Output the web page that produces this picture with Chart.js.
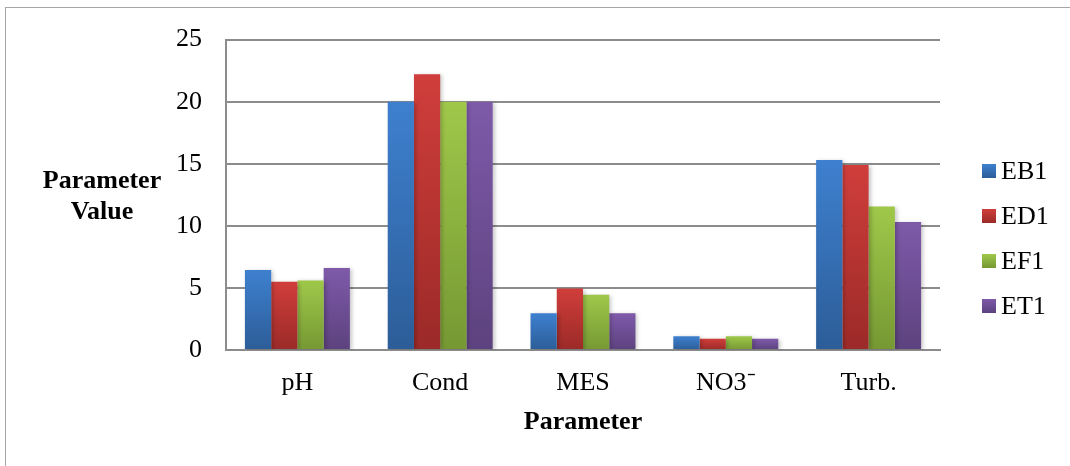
<!DOCTYPE html>
<html>
<head>
<meta charset="utf-8">
<script src="https://cdn.jsdelivr.net/npm/chart.js@4.4.1/dist/chart.umd.min.js"></script>
<style>
  html, body { margin: 0; padding: 0; background: #fff; overflow: hidden; }
  #wrap { position: relative; width: 1070px; height: 466px; }
  #frame { position: absolute; left: 5px; top: 7px; width: 1100px; height: 500px; border: 1px solid #a6a6a6; }
  canvas { position: absolute; left: 0; top: 0; }
</style>
</head>
<body>
<div id="wrap">
  <div id="frame"></div>
  <canvas id="myBarChart" width="1070" height="466"></canvas>
</div>
<script>
// 데이터
const categories = ['pH', 'Cond', 'MES', 'NO3\u207B', 'Turb.'];
const seriesNames = ['EB1', 'ED1', 'EF1', 'ET1'];
const eb1 = [6.45, 20, 2.95, 1.1, 15.3];
const ed1 = [5.5, 22.2, 4.95, 0.9, 14.9];
const ef1 = [5.6, 20, 4.45, 1.1, 11.55];
const et1 = [6.6, 20, 2.95, 0.9, 10.3];
const yTicks = [0, 5, 10, 15, 20, 25];

// 색상 (위 -> 아래 그라데이션)
const colors = [
	{ top: '#3e80cf', bottom: '#2c5d98', mid: '#3570b6' },
	{ top: '#d03e3b', bottom: '#9b2a28', mid: '#b93533' },
	{ top: '#9fc84a', bottom: '#769833', mid: '#8bb13f' },
	{ top: '#7e5aa9', bottom: '#5c427e', mid: '#6d4e95' }
];

const serif = "'Liberation Serif', 'Times New Roman', serif";
const fontSize = 26;
const gridColor = '#8c8c8c';

function barGradient(idx) {
	return function(context) {
		const chart = context.chart;
		const yScale = chart.scales.y;
		if (!chart.chartArea || !yScale || context.parsed === undefined) {
			return colors[idx].mid;
		}
		const top = yScale.getPixelForValue(context.parsed.y);
		const bottom = yScale.getPixelForValue(0);
		if (!isFinite(top) || !isFinite(bottom) || top === bottom) {
			return colors[idx].mid;
		}
		const g = chart.ctx.createLinearGradient(0, top, 0, bottom);
		g.addColorStop(0, colors[idx].top);
		g.addColorStop(1, colors[idx].bottom);
		return g;
	};
}

// 그림자
const shadowPlugin = {
	id: 'barShadow',
	beforeDatasetsDraw(chart) {
		const ctx = chart.ctx;
		ctx.save();
		ctx.shadowColor = 'rgba(0, 0, 0, 0.22)';
		ctx.shadowBlur = 4;
		ctx.shadowOffsetX = 2;
		ctx.shadowOffsetY = 1;
	},
	afterDatasetsDraw(chart) {
		chart.ctx.restore();
	}
};

// y축 제목 (가로) + 범례
const textPlugin = {
	id: 'extraText',
	afterDraw(chart) {
		const ctx = chart.ctx;
		ctx.save();
		ctx.fillStyle = '#000';
		ctx.font = 'bold ' + fontSize + 'px ' + serif;
		ctx.textAlign = 'center';
		ctx.textBaseline = 'middle';
		ctx.fillText('Parameter', 102, 181);
		ctx.fillText('Value', 102, 212);

		// 범례
		ctx.font = fontSize + 'px ' + serif;
		ctx.textAlign = 'left';
		chart.data.datasets.forEach(function(ds, i) {
			const cy = 171 + i * 45;
			const g = ctx.createLinearGradient(0, cy - 7, 0, cy + 7);
			g.addColorStop(0, colors[i].top);
			g.addColorStop(1, colors[i].bottom);
			ctx.fillStyle = g;
			ctx.fillRect(982, cy - 7, 14, 14);
			ctx.fillStyle = '#000';
			ctx.fillText(ds.label, 1001, cy + 1);
		});
		ctx.restore();
	}
};

const barCtx = document.getElementById('myBarChart').getContext('2d');
const seriesData = [eb1, ed1, ef1, et1];

window.myBarChart = new Chart(barCtx, {
	type: 'bar',
	data: {
		labels: categories,
		datasets: seriesNames.map(function(name, i) {
			return {
				label: name,
				data: seriesData[i],
				backgroundColor: barGradient(i),
				borderWidth: 0,
				categoryPercentage: 0.735,
				barPercentage: 1.0
			};
		})
	},
	options: {
		responsive: false,
		animation: false,
		layout: {
			padding: { left: 0, right: 130, top: 20, bottom: 0 }
		},
		scales: {
			x: {
				grid: { display: false, drawTicks: false },
				border: { display: true, color: gridColor, width: 2 },
				ticks: {
					color: '#000',
					padding: 18,
					font: { family: serif, size: fontSize }
				},
				title: {
					display: true,
					text: 'Parameter',
					color: '#000',
					font: { family: serif, size: fontSize, weight: 'bold' },
					padding: { top: 8, bottom: 28 }
				},
				afterFit: function(scale) { scale.height = 116; }
			},
			y: {
				min: 0,
				max: 25,
				afterBuildTicks: function(scale) {
					scale.ticks = yTicks.map(function(v) { return { value: v }; });
				},
				grid: { color: gridColor, lineWidth: 2, drawTicks: false },
				border: { display: true, color: gridColor, width: 2 },
				ticks: {
					color: '#000',
					padding: 24,
					font: { family: serif, size: fontSize }
				},
				afterFit: function(scale) { scale.width = 226; }
			}
		},
		plugins: {
			legend: { display: false },
			tooltip: { enabled: false }
		}
	},
	plugins: [shadowPlugin, textPlugin]
});
</script>
</body>
</html>
